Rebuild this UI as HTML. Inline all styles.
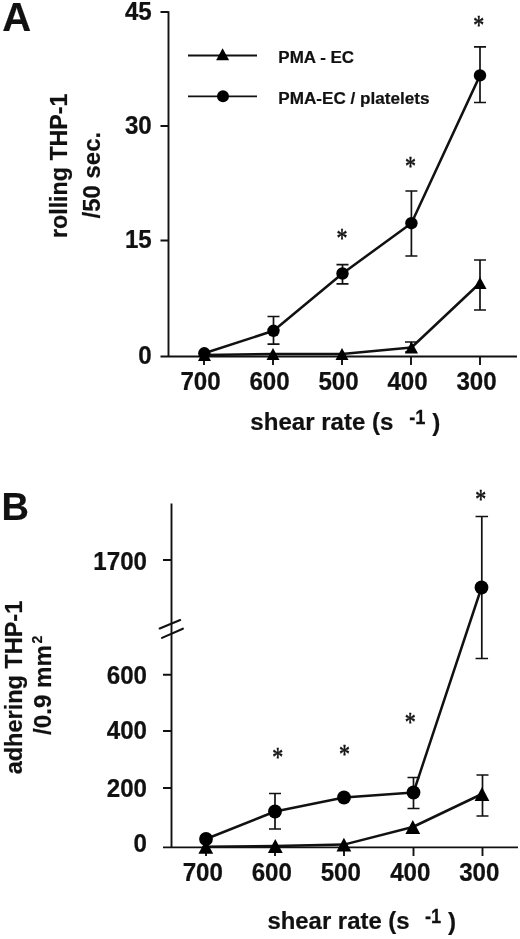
<!DOCTYPE html>
<html><head><meta charset="utf-8">
<style>
html,body{margin:0;padding:0;background:#fff;}
svg{display:block;}
text{font-family:"Liberation Sans",sans-serif;font-weight:bold;fill:#111;stroke:#111;stroke-width:0.2px;}
.t{font-size:24.2px;}
.y{font-size:23.5px;}
.st{font-family:"Liberation Serif",serif;font-weight:normal;font-size:22px;text-anchor:middle;stroke:#111;stroke-width:0.45px;}
.b{stroke:#111;stroke-width:0.25px;}
.ln{stroke:#111;fill:none;}
</style></head><body>
<svg xmlns="http://www.w3.org/2000/svg" width="520" height="939" viewBox="0 0 520 939">
<rect width="520" height="939" fill="#fff"/>

<text x="2.2" y="31.4" font-size="40">A</text>
<g class="ln" stroke-width="1.9">
<path d="M168.5 11.2V356.5"/>
<path d="M160.5 12H168.5M160.5 126H168.5M160.5 240.5H168.5M160.5 356.5H517"/>
<path d="M204 356v9M273 356v9M342 356v9M411 356v9M480 356v9"/>
</g>
<g class="t" text-anchor="end">
<text transform="translate(151.7,19.5) scale(0.965,1)" font-size="25" text-anchor="end" class="b">45</text>
<text transform="translate(151.7,133.5) scale(0.965,1)" font-size="25" text-anchor="end" class="b">30</text>
<text transform="translate(151.7,248) scale(0.965,1)" font-size="25" text-anchor="end" class="b">15</text>
<text transform="translate(151.7,363.5) scale(0.965,1)" font-size="25" text-anchor="end" class="b">0</text>
</g>
<g class="t" text-anchor="middle">
<text transform="translate(200.5,390.3) scale(0.965,1)" font-size="25" text-anchor="middle" class="b">700</text>
<text transform="translate(269.5,390.3) scale(0.965,1)" font-size="25" text-anchor="middle" class="b">600</text>
<text transform="translate(338.5,390.3) scale(0.965,1)" font-size="25" text-anchor="middle" class="b">500</text>
<text transform="translate(407.5,390.3) scale(0.965,1)" font-size="25" text-anchor="middle" class="b">400</text>
<text transform="translate(476.5,390.3) scale(0.965,1)" font-size="25" text-anchor="middle" class="b">300</text>
</g>
<text x="250.3" y="430.4" class="t" textLength="143.2" lengthAdjust="spacingAndGlyphs">shear rate (s</text>
<text transform="translate(409.2,424.2) scale(0.87,1)" font-size="21" text-anchor="start" class="b">-1</text>
<text x="432.2" y="431" class="t">)</text>
<text transform="translate(67.4,238) rotate(-90)" class="y" textLength="144.5" lengthAdjust="spacingAndGlyphs">rolling THP-1</text>
<text transform="translate(100,218.4) rotate(-90)" class="y" textLength="86.5" lengthAdjust="spacingAndGlyphs">/50 sec.</text>
<path class="ln" stroke-width="1.8" d="M188 55.5H257M188 96.3H257"/>
<path d="M222.6 48.20L229.10 60.20H216.10Z"/>
<circle cx="223" cy="96.3" r="6"/>
<text x="278.3" y="62.9" font-size="16" textLength="75.8" lengthAdjust="spacingAndGlyphs">PMA - EC</text>
<text x="278.3" y="103.7" font-size="16" textLength="151.2" lengthAdjust="spacingAndGlyphs">PMA-EC / platelets</text>
<path class="ln" stroke-width="1.7" d="M273.5 316.5V344.2M267.5 316.5h12M267.5 344.2h12M342.5 264.6V283.8M336.5 264.6h12M336.5 283.8h12M411.4 191V256M405.4 191h12M405.4 256h12M480 46.8V102.5M474.0 46.8h12M474.0 102.5h12M411 342V352M405.0 342h12M405.0 352h12M480 260V310M474.0 260h12M474.0 310h12"/>
<path class="ln" stroke-width="2.5" stroke-linejoin="round" d="M204.3 353.3L273.5 330.8L342.5 273.5L411.4 223.2L480 75.4"/>
<path class="ln" stroke-width="2.5" stroke-linejoin="round" d="M204.5 355L273 354L342 354L411.5 347.5L480 283"/>
<circle cx="204.3" cy="353.3" r="6.2"/>
<circle cx="273.5" cy="330.8" r="6.2"/>
<circle cx="342.5" cy="273.5" r="6.2"/>
<circle cx="411.4" cy="223.2" r="6.2"/>
<circle cx="480" cy="75.4" r="6.2"/>
<path d="M204.5 349.00L211.00 361.00H198.00Z"/>
<path d="M273 348.00L279.50 360.00H266.50Z"/>
<path d="M342 348.00L348.50 360.00H335.50Z"/>
<path d="M411.5 341.50L418.00 353.50H405.00Z"/>
<path d="M480 277.00L486.50 289.00H473.50Z"/>
<text transform="translate(341.9,246.6) scale(1,1.2)" class="st">*</text>
<text transform="translate(410.4,175.20000000000002) scale(1,1.2)" class="st">*</text>
<text transform="translate(478.7,34.2) scale(1,1.2)" class="st">*</text>
<text x="1.5" y="520" font-size="38">B</text>
<g class="ln" stroke-width="1.9">
<path d="M171.5 503.5V847"/>
<path d="M163 560H171.5M163 674.8H171.5M163 731H171.5M163 788H171.5M163 847.4H518"/>
<path d="M206 847v9M275 847v9M344 847v9M413.5 847v9M482.5 847v9"/>
<path stroke-width="2.1" stroke-linecap="round" d="M159.7 628.5L180.2 620M162 637.9L182.9 628.7"/>
</g>
<g class="t" text-anchor="end">
<text transform="translate(147,569.5) scale(0.965,1)" font-size="25" text-anchor="end" class="b">1700</text>
<text transform="translate(147,684) scale(0.965,1)" font-size="25" text-anchor="end" class="b">600</text>
<text transform="translate(147,739.2) scale(0.965,1)" font-size="25" text-anchor="end" class="b">400</text>
<text transform="translate(147,796.7) scale(0.965,1)" font-size="25" text-anchor="end" class="b">200</text>
<text transform="translate(147,852.2) scale(0.965,1)" font-size="25" text-anchor="end" class="b">0</text>
</g>
<g class="t" text-anchor="middle">
<text transform="translate(202.8,881) scale(0.965,1)" font-size="25" text-anchor="middle" class="b">700</text>
<text transform="translate(271.8,881) scale(0.965,1)" font-size="25" text-anchor="middle" class="b">600</text>
<text transform="translate(340.8,881) scale(0.965,1)" font-size="25" text-anchor="middle" class="b">500</text>
<text transform="translate(410.3,881) scale(0.965,1)" font-size="25" text-anchor="middle" class="b">400</text>
<text transform="translate(479.3,881) scale(0.965,1)" font-size="25" text-anchor="middle" class="b">300</text>
</g>
<text x="267.4" y="929" class="t" textLength="142.2" lengthAdjust="spacingAndGlyphs">shear rate (s</text>
<text transform="translate(425,923.2) scale(0.87,1)" font-size="21" text-anchor="start" class="b">-1</text>
<text x="447.9" y="929.5" class="t">)</text>
<text transform="translate(21.6,774.3) rotate(-90)" class="y" textLength="173.5" lengthAdjust="spacingAndGlyphs">adhering THP-1</text>
<text transform="translate(50.8,734.9) rotate(-90)" class="y" textLength="90" lengthAdjust="spacingAndGlyphs">/0.9 mm</text>
<text transform="translate(42,643.5) rotate(-90)" font-size="14">2</text>
<path class="ln" stroke-width="1.7" d="M275 793.5V829M269.0 793.5h12M269.0 829h12M413.5 777.5V808.5M407.5 777.5h12M407.5 808.5h12M481.8 516.5V658.5M475.55 516.5h12.5M475.55 658.5h12.5M482.5 775V816M476.5 775h12M476.5 816h12"/>
<path class="ln" stroke-width="2.5" stroke-linejoin="round" d="M206 839L275 811.5L344 797.5L413.5 792.5L481.5 587.5"/>
<path class="ln" stroke-width="2.5" stroke-linejoin="round" d="M205.8 846.8L275.3 846L343.9 844.6L412.8 827L482 794"/>
<circle cx="206" cy="839" r="6.9"/>
<circle cx="275" cy="811.5" r="6.9"/>
<circle cx="344" cy="797.5" r="6.9"/>
<circle cx="413.5" cy="792.5" r="6.9"/>
<circle cx="481.5" cy="587.5" r="6.9"/>
<path d="M205.8 839.90L213.20 853.70H198.40Z"/>
<path d="M275.3 839.10L282.70 852.90H267.90Z"/>
<path d="M343.9 837.70L351.30 851.50H336.50Z"/>
<path d="M412.8 820.10L420.20 833.90H405.40Z"/>
<path d="M482 787.10L489.40 800.90H474.60Z"/>
<text transform="translate(277.7,766.1) scale(1,1.2)" class="st">*</text>
<text transform="translate(344.6,762.8) scale(1,1.2)" class="st">*</text>
<text transform="translate(410.2,731.1999999999999) scale(1,1.2)" class="st">*</text>
<text transform="translate(480.7,507.79999999999995) scale(1,1.2)" class="st">*</text>
</svg>
</body></html>
